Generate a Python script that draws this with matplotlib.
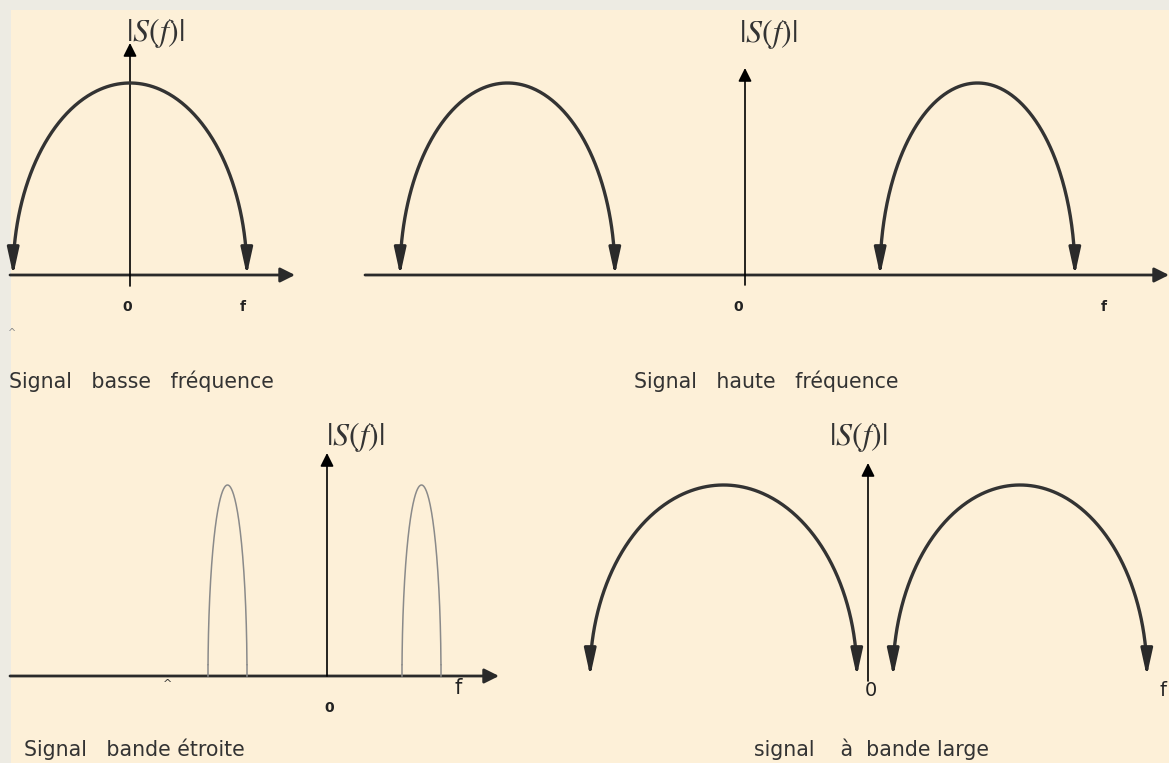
"""Spectres |S(f)| de quatre types de signaux (schéma)."""
import numpy as np
import matplotlib
matplotlib.use("Agg")
import matplotlib.pyplot as plt
from matplotlib.patches import Rectangle

W, H = 1169, 763

# lobes of |S(f)|, in picture pixels: panel, centre, half width, base, peak
lobe_panel = [0, 1, 1, 2, 2, 3, 3]
lobe_center = [130, 507.5, 977.5, 227.5, 421.5, 723.5, 1020]
lobe_halfwidth = [117, 107.5, 97.5, 19.5, 19.5, 133.5, 127]
lobe_base = [275, 275, 275, 676, 676, 676, 676]
lobe_peak = [83, 83, 83, 485, 485, 485, 485]

# axes of each panel
axis_x0 = [130, 745, 327, 868]
axis_y0 = [275, 275, 676, 676]
xaxis_start = [10, 365, 10, 547]
xaxis_end = [295, 1169, 499, 1172]
yaxis_top = [43, 68, 453, 463]
yaxis_bottom = [286, 285, 676, 681]

# labels
ylabel_pos = [(155, 33), (768, 34), (355, 437), (858, 437)]
zero_pos = [(127, 307), (738, 307), (329, 708), (871, 690)]
f_pos = [(243, 307), (1104, 307), (458, 688), (1163, 690)]
tick_size = [10, 10, 10, 14]
f_size = [10, 10, 15, 14]
captions = ["Signal   basse   fréquence", "Signal   haute   fréquence",
            "Signal   bande étroite", "signal    à  bande large"]
caption_pos = [(9, 381, "left"), (766, 381, "center"),
               (24, 749, "left"), (872, 749, "center")]

plt.rcParams["mathtext.fontset"] = "stix"
fig = plt.figure(figsize=(W / 100, H / 100), dpi=100, facecolor="#EDEBE3")
ax = fig.add_axes([0, 0, 1, 1])
ax.set_xlim(0, W)
ax.set_ylim(H, 0)
ax.axis("off")
ax.add_patch(Rectangle((11, 10), W, H, facecolor="#FDF0D8", edgecolor="none", zorder=0))

# axes with arrows
for p in range(4):
    ax.annotate("", xy=(xaxis_end[p], axis_y0[p]), xytext=(xaxis_start[p], axis_y0[p]),
                arrowprops=dict(arrowstyle="-|>", color="#2a2a2a", lw=2.0,
                                mutation_scale=22, shrinkA=0, shrinkB=0), zorder=3)
    ax.annotate("", xy=(axis_x0[p], yaxis_top[p]), xytext=(axis_x0[p], yaxis_bottom[p]),
                arrowprops=dict(arrowstyle="-|>", color="black", lw=1.2,
                                mutation_scale=20, shrinkA=0, shrinkB=0), zorder=3)
    ax.text(*ylabel_pos[p], r"$|S(f)|$", fontsize=23, ha="center", va="center",
            color="#333333")
    ax.text(*zero_pos[p], "0", fontsize=tick_size[p], ha="center", va="center",
            color="#222222", fontweight="bold" if tick_size[p] < 12 else "normal")
    ax.text(*f_pos[p], "f", fontsize=f_size[p], ha="center", va="center",
            color="#222222", fontweight="bold" if f_size[p] < 12 else "normal")
    x, y, ha = caption_pos[p]
    ax.text(x, y, captions[p], fontsize=14.8, ha=ha, va="center", color="#333333")

# small stray marks of the original
ax.text(12, 333, "^", fontsize=7, color="#888888", ha="center", va="center")
ax.text(168, 684, "^", fontsize=8, color="#333333", ha="center", va="center")

# lobes
t = np.linspace(0.06, np.pi - 0.06, 300)
for pan, c, hw, b, pk in zip(lobe_panel, lobe_center, lobe_halfwidth, lobe_base, lobe_peak):
    xs = c + hw * np.cos(t)
    ys = b - (b - pk) * np.sin(t)
    if pan == 2:
        ax.plot(xs, ys, color="#8a8a8a", lw=1.1, zorder=4)
        ax.plot([xs[0], xs[0]], [ys[0], b], color="#8a8a8a", lw=1.1, zorder=4)
        ax.plot([xs[-1], xs[-1]], [ys[-1], b], color="#8a8a8a", lw=1.1, zorder=4)
        continue
    ax.plot(xs, ys, color="#333333", lw=2.4, zorder=4, solid_capstyle="round")
    for ex, ey in ((xs[0], ys[0]), (xs[-1], ys[-1])):
        ax.annotate("", xy=(ex, b), xytext=(ex, ey),
                    arrowprops=dict(arrowstyle="-|>,head_width=0.22,head_length=1.0",
                                    color="#2a2a2a", lw=2.2,
                                    mutation_scale=16, shrinkA=0, shrinkB=0), zorder=4)

fig.savefig("out.png", dpi=100, facecolor=fig.get_facecolor())
